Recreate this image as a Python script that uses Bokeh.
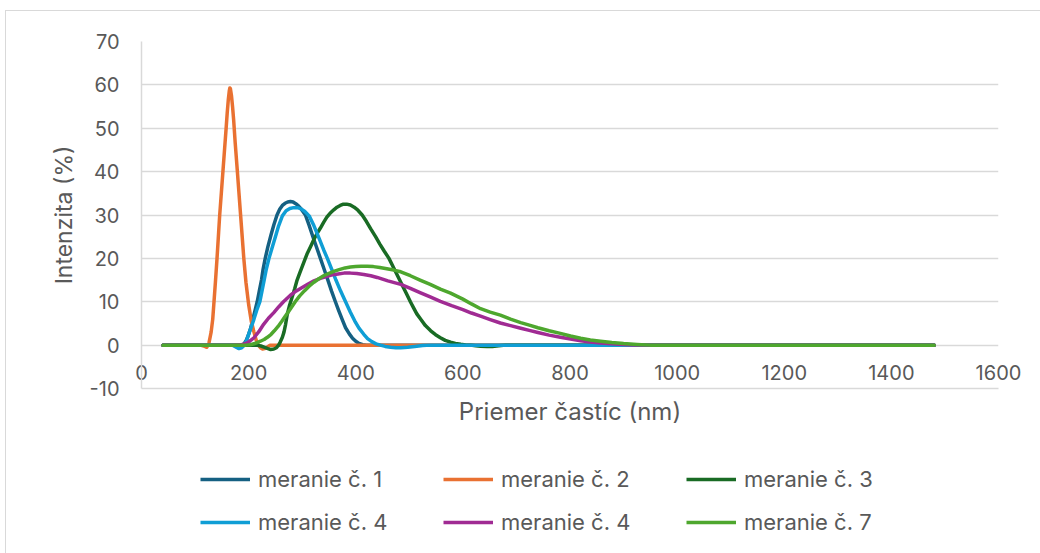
from bokeh.plotting import figure
from bokeh.layouts import column
from bokeh.models import Range1d, FixedTicker, Legend, LegendItem
from bokeh.embed import file_html
from bokeh.resources import INLINE

# ---- data ----
x1 = [40, 180, 186, 191, 196, 200, 204, 208, 212, 216, 220, 224, 227, 231, 236, 242, 247, 253, 258, 263, 268, 273, 278, 283, 288, 293, 298, 302, 306, 313, 320, 327, 334, 341, 348, 355, 362, 368, 375, 381, 388, 394, 400, 406, 413, 420, 1480]
y1 = [0, 0, 0, 0.2, 1.2, 2.5, 4, 6, 8, 10, 12.5, 15, 17.5, 20, 22.7, 25.5, 27.7, 30, 31.3, 32.2, 32.7, 33, 33.1, 33, 32.6, 32.1, 31.4, 30.7, 30, 27.6, 25, 22.5, 20, 17.5, 15, 12.4, 10, 8, 5.8, 4, 2.6, 1.6, 0.9, 0.4, 0.1, 0, 0]

x2 = [40, 110, 118, 122, 126, 130, 133, 135, 138, 141, 144, 146, 149, 152, 155, 158, 160, 162, 164, 165, 166, 168, 170, 172, 175, 179, 182, 185, 188, 191, 195, 200, 205, 210, 214, 218, 222, 226, 230, 235, 240, 1480]
y2 = [0, 0, -0.3, -0.5, 0.5, 3, 6, 9.4, 14.5, 20, 26, 30, 35, 40, 45, 50, 53.5, 56.5, 58.7, 59.3, 59.1, 57.5, 55, 52, 46.5, 40, 35, 30, 25, 20, 14.5, 9.4, 5.5, 3, 1.2, 0, -0.6, -0.9, -0.8, -0.4, 0, 0]

x3 = [40, 215, 223, 230, 236, 241, 247, 252, 256, 259, 263, 266, 269, 272, 276, 281, 286, 290, 295, 300, 305, 309, 316, 322, 328, 334, 340, 346, 352, 359, 365, 371, 377, 383, 390, 397, 404, 412, 420, 428, 437, 445, 453, 462, 470, 476, 482, 488, 495, 502, 508, 514, 521, 530, 540, 549, 558, 567, 577, 586, 596, 605, 614, 624, 633, 645, 655, 667, 680, 1480]
y3 = [0, 0, -0.2, -0.5, -0.8, -1, -0.9, -0.6, 0, 0.7, 1.8, 3, 4.8, 7, 9, 11, 13, 14.8, 16.5, 18.1, 19.7, 21, 22.8, 24.4, 25.8, 27, 28.3, 29.5, 30.4, 31.2, 31.8, 32.2, 32.5, 32.5, 32.3, 31.8, 31.1, 30, 28.5, 26.8, 25, 23.3, 21.7, 20, 18, 16.5, 15, 13.5, 11.8, 10, 8.6, 7.2, 6, 4.5, 3.3, 2.4, 1.7, 1.1, 0.7, 0.4, 0.2, 0.05, 0, -0.15, -0.25, -0.3, -0.3, -0.15, 0, 0]

x4 = [40, 170, 176, 182, 187, 192, 196, 200, 205, 210, 215, 221, 225, 229, 233, 238, 244, 250, 256, 263, 270, 277, 284, 291, 298, 305, 313, 322, 332, 340, 347, 355, 363, 372, 381, 390, 398, 406, 415, 422, 430, 438, 446, 455, 465, 475, 484, 497, 510, 525, 540, 1480]
y4 = [0, 0, -0.4, -0.8, -0.6, 0, 1, 2.5, 4.2, 6, 8, 10, 12.5, 15, 17.5, 20, 22.5, 25, 27.5, 29.8, 31, 31.5, 31.7, 31.7, 31.4, 30.8, 29.8, 27.5, 24.5, 22, 20, 17.5, 15, 12.4, 10, 7.6, 5.6, 3.9, 2.5, 1.5, 0.8, 0.3, 0, -0.3, -0.5, -0.6, -0.6, -0.5, -0.3, -0.1, 0, 0]

x5 = [40, 180, 187, 195, 202, 210, 219, 228, 237, 247, 256, 265, 278, 289, 300, 311, 322, 334, 345, 356, 367, 378, 390, 402, 415, 428, 440, 450, 460, 472, 484, 502, 520, 539, 558, 579, 600, 616, 633, 651, 670, 689, 708, 724, 740, 761, 782, 801, 820, 838, 857, 878, 900, 920, 940, 1480]
y5 = [0, 0, 0.1, 0.4, 0.9, 1.7, 3.1, 4.8, 6.2, 7.5, 8.8, 10, 11.5, 12.5, 13.3, 14.1, 14.8, 15.4, 15.8, 16.2, 16.4, 16.6, 16.6, 16.5, 16.3, 16, 15.6, 15.2, 14.8, 14.4, 14.0, 13.1, 12.1, 11.1, 10.1, 9.1, 8.2, 7.4, 6.7, 5.9, 5.1, 4.5, 3.9, 3.4, 2.9, 2.3, 1.8, 1.4, 1.0, 0.7, 0.5, 0.3, 0.15, 0.05, 0, 0]

x6 = [40, 195, 203, 210, 216, 222, 229, 235, 242, 248, 255, 262, 268, 275, 281, 287, 295, 304, 313, 322, 331, 340, 349, 359, 369, 380, 390, 400, 410, 421, 433, 445, 458, 471, 484, 502, 520, 539, 558, 577, 600, 616, 633, 651, 670, 689, 708, 724, 740, 761, 782, 801, 820, 838, 857, 878, 900, 925, 950, 1480]
y6 = [0, 0, 0.1, 0.3, 0.6, 0.9, 1.3, 1.8, 2.5, 3.3, 4.3, 5.5, 6.6, 7.8, 8.9, 10, 11.3, 12.5, 13.6, 14.5, 15.3, 16, 16.5, 17, 17.4, 17.8, 18, 18.1, 18.2, 18.2, 18.1, 17.9, 17.6, 17.3, 16.9, 16.0, 15.0, 14.0, 12.9, 12.0, 10.6, 9.5, 8.4, 7.6, 6.9, 6.0, 5.2, 4.6, 4.0, 3.3, 2.7, 2.1, 1.6, 1.2, 0.9, 0.6, 0.35, 0.15, 0, 0]

labels = ["meranie č. 1", "meranie č. 2", "meranie č. 3", "meranie č. 4", "meranie č. 4", "meranie č. 7"]
colors = ["#156082", "#E97132", "#196B24", "#0F9ED5", "#A02B93", "#4EA72E"]
x_ticks = [0, 200, 400, 600, 800, 1000, 1200, 1400, 1600]
y_ticks = [-10, 0, 10, 20, 30, 40, 50, 60, 70]

FONT = "Inter"
TXT = "#595959"
GRID = "#d9d9d9"

xs = [x1, x2, x3, x4, x5, x6]
ys = [y1, y2, y3, y4, y5, y6]

# ---- main chart ----
p = figure(
    frame_width=857, frame_height=347,
    min_border_left=135, min_border_top=30, min_border_right=42, min_border_bottom=45,
    x_range=Range1d(0, 1600), y_range=Range1d(-10, 70),
    output_backend="svg", toolbar_location=None,
)
p.outline_line_color = None

p.xaxis.ticker = FixedTicker(ticks=x_ticks)
p.yaxis.ticker = FixedTicker(ticks=y_ticks)
p.yaxis.major_label_overrides = {t: str(t) for t in y_ticks}
p.xgrid.grid_line_color = None
p.ygrid.grid_line_color = GRID
p.ygrid.grid_line_width = 1.5

for ax in (p.xaxis[0], p.yaxis[0]):
    ax.axis_line_color = GRID
    ax.axis_line_width = 1.5
    ax.major_tick_line_color = None
    ax.minor_tick_line_color = None
    ax.major_tick_out = 0
    ax.major_tick_in = 0
    ax.major_label_text_font = FONT
    ax.major_label_text_font_size = "20px"
    ax.major_label_text_color = TXT
    ax.axis_label_text_font = FONT
    ax.axis_label_text_color = TXT
    ax.axis_label_text_font_style = "normal"

p.xaxis.axis_label = "Priemer častíc (nm)"
p.yaxis.axis_label = "Intenzita (%)"
p.xaxis.axis_label_text_font_size = "24px"
p.yaxis.axis_label_text_font_size = "23px"
p.xaxis.major_label_standoff = -24
p.xaxis.axis_label_standoff = 14
p.yaxis.major_label_standoff = 22
p.yaxis.axis_label_standoff = 9

for xv, yv, c in zip(xs, ys, colors):
    p.line(xv, yv, line_color=c, line_width=3.5, line_cap="round", line_join="round")

# ---- legend strip below the chart (its lines fall outside its view) ----
p2 = figure(width=1034, height=120, x_range=Range1d(-2, -1), y_range=Range1d(-200, -100),
            output_backend="svg", toolbar_location=None,
            x_axis_location=None, y_axis_location=None,
            min_border=0)
p2.grid.grid_line_color = None
p2.outline_line_color = None
items = []
for xv, yv, c, lab in zip(xs, ys, colors, labels):
    r = p2.line(xv, yv, line_color=c, line_width=3.5)
    items.append(LegendItem(label=lab, renderers=[r]))

legend = Legend(items=items, orientation="horizontal", ncols=3,
                location=(59, 18),
                glyph_width=50, glyph_height=20, label_standoff=8,
                label_width=168, spacing=17,
                label_text_font=FONT, label_text_font_size="22px", label_text_color=TXT,
                border_line_color=None, background_fill_alpha=0, padding=4, margin=0)
p2.add_layout(legend)

layout = column(p, p2, spacing=0, margin=(10, 0, 0, 5),
                styles={"border-top": "1px solid #d9d9d9", "border-left": "1px solid #d9d9d9"})

open("out.html", "w").write(file_html(layout, INLINE))
